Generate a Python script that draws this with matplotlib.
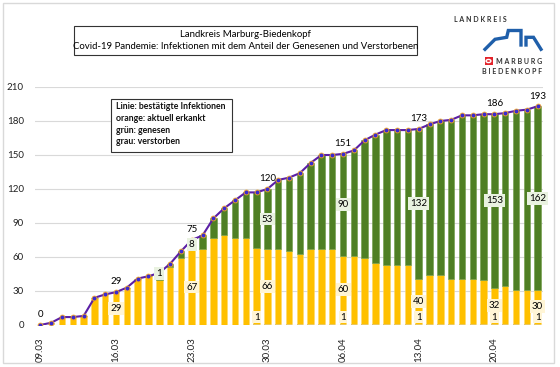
import matplotlib
matplotlib.use("Agg")
import matplotlib.pyplot as plt
import matplotlib.patches as patches
from matplotlib.lines import Line2D
import numpy as np
import pandas as pd

# daily values 09.03. - 24.04.
dates = pd.date_range("2020-03-09", "2020-04-24").strftime("%d.%m").tolist()
confirmed = [0, 2, 7, 7, 8, 24, 27, 29, 33, 41, 43, 46, 54, 65, 75, 79, 94, 103, 110, 117,
             117, 120, 128, 130, 134, 143, 150, 150, 151, 154, 163, 168, 172, 172, 172, 173,
             177, 180, 181, 185, 185, 186, 186, 187, 189, 190, 193]
ill = [0, 2, 7, 7, 8, 24, 27, 29, 33, 41, 43, 40, 51, 59, 67, 67, 77, 79, 77, 77,
       67, 66, 66, 64, 62, 66, 66, 66, 60, 60, 58, 54, 52, 52, 52, 40,
       43, 43, 40, 40, 40, 39, 32, 33, 30, 30, 30]
recovered = [0, 0, 0, 0, 0, 0, 0, 0, 0, 0, 0, 1, 3, 6, 8, 12, 17, 24, 33, 40,
             49, 53, 61, 65, 71, 76, 83, 83, 90, 93, 104, 113, 119, 119, 119, 132,
             133, 136, 140, 144, 144, 146, 153, 153, 158, 159, 162]
dead = [0] * 20 + [1] * 27

# days with data labels
total_labels = ["09.03", "16.03", "23.03", "30.03", "06.04", "13.04", "20.04", "24.04"]
ill_labels = ["16.03", "23.03", "30.03", "06.04", "13.04", "20.04", "24.04"]
rec_labels = ["20.03", "23.03", "30.03", "06.04", "13.04", "20.04", "24.04"]
dead_labels = ["29.03", "06.04", "13.04", "20.04", "24.04"]
tick_days = ["09.03", "16.03", "23.03", "30.03", "06.04", "13.04", "20.04"]

C_ILL = "#FFC000"
C_REC = "#4F7F24"
C_DEAD = "#A5A5A5"
C_LINE = "#5B1FA6"

plt.rcParams["font.family"] = ["Lato", "DejaVu Sans"]

W, H = 560, 367


def fx(px):
    return px / W


def fy(py):
    return 1 - py / H


fig = plt.figure(figsize=(5.6, 3.67), dpi=100)
ax = fig.add_axes([fx(35), 42 / H, 508 / W, 238 / H])

x = np.arange(len(dates))
ill = np.array(ill)
recovered = np.array(recovered)
dead = np.array(dead)

ax.bar(x, dead, width=0.6, color=C_DEAD, zorder=2)
ax.bar(x, ill, width=0.6, bottom=dead, color=C_ILL, edgecolor="#FFD966", linewidth=0.4, zorder=2)
ax.bar(x, recovered, width=0.6, bottom=dead + ill, color=C_REC, edgecolor="#6E9B45", linewidth=0.4, zorder=2)
ax.plot(x, confirmed, color=C_LINE, lw=1.5, marker="o", ms=3.5, mfc="#3A2BD0",
        mec="#F5A623", mew=0.6, zorder=4)

idx = {d: i for i, d in enumerate(dates)}
fs = 7
for d in total_labels:
    i = idx[d]
    ax.text(i, confirmed[i] + 9, str(confirmed[i]), ha="center", va="center", fontsize=fs, zorder=5)
for d in ill_labels:
    i = idx[d]
    ax.text(i, dead[i] + ill[i] / 2, str(ill[i]), ha="center", va="center", fontsize=fs, zorder=5,
            bbox=dict(boxstyle="square,pad=0.2", fc="#FFF5D6", ec="none"))
for d in rec_labels:
    i = idx[d]
    y = dead[i] + ill[i] + recovered[i] / 2
    if recovered[i] < 3:
        y += 5
    ax.text(i, y, str(recovered[i]), ha="center", va="center", fontsize=fs, zorder=5,
            bbox=dict(boxstyle="square,pad=0.2", fc="#E9F2E0", ec="none"))
for d in dead_labels:
    i = idx[d]
    ax.text(i, 7, str(dead[i]), ha="center", va="center", fontsize=fs, zorder=5,
            bbox=dict(boxstyle="square,pad=0.15", fc="#FFF5D6", ec="none"))

# axes
ax.set_xlim(-0.5, len(dates) - 0.5)
ax.set_ylim(0, 210)
ax.set_yticks(range(0, 211, 30))
ax.set_xticks([idx[d] for d in tick_days])
ax.set_xticklabels(tick_days, rotation=90)
ax.tick_params(axis="both", length=0, labelsize=7, colors="#222222")
ax.tick_params(axis="y", pad=8)
ax.tick_params(axis="x", pad=9)
ax.grid(axis="y", color="#D9D9D9", lw=0.8, zorder=0)
for s in ax.spines.values():
    s.set_visible(False)

# title box
fig.patches.append(patches.Rectangle((fx(74), fy(55)), 343 / W, 29 / H, transform=fig.transFigure,
                                     fc="white", ec="#333333", lw=0.8))
fig.text(fx(245.5), fy(40.5),
         "Landkreis Marburg-Biedenkopf\nCovid-19 Pandemie: Infektionen mit dem Anteil der Genesenen und Verstorbenen",
         ha="center", va="center", fontsize=6.9, linespacing=1.45)

# legend box
fig.patches.append(patches.Rectangle((fx(111), fy(152)), 121 / W, 53 / H,
                                     transform=fig.transFigure, fc="white", ec="#333333", lw=0.8))
fig.text(fx(116), fy(102), "Linie: bestätigte Infektionen\norange: aktuell erkankt\ngrün: genesen\ngrau: verstorben",
         fontsize=6.3, fontweight="bold", va="top", ha="left", linespacing=1.4, color="#111111")

# logo
fig.text(fx(480), fy(20), "L A N D K R E I S", ha="center", va="center", fontsize=5,
         fontweight="bold", color="#333333")
lx1 = [485, 495, 506.7, 508.3, 521, 521]
ly1 = [49.3, 39.3, 37.3, 30.5, 30.5, 45]
lx2 = [526, 526, 533.5, 541]
ly2 = [45, 37.3, 37.3, 49.3]
for lx, ly in ((lx1, ly1), (lx2, ly2)):
    fig.lines.append(Line2D(np.array(lx) / W, 1 - np.array(ly) / H, transform=fig.transFigure,
                            color="#1F5FAA", lw=2.4, solid_joinstyle="miter"))
fig.patches.append(patches.Rectangle((fx(484.5), fy(65)), 8 / W, 8 / H,
                                     transform=fig.transFigure, fc="#E3242B", ec="none"))
fig.patches.append(patches.Circle((fx(488.5), fy(61)), 2.4 / W,
                                  transform=fig.transFigure, fc="none", ec="white", lw=1))
fig.text(fx(542), fy(61.5), "M A R B U R G", ha="right", va="center", fontsize=5,
         fontweight="bold", color="#333333")
fig.text(fx(542), fy(72), "B I E D E N K O P F", ha="right", va="center", fontsize=5,
         fontweight="bold", color="#333333")

# chart border
fig.patches.append(patches.Rectangle((fx(3), fy(363)), 551 / W, 360 / H,
                                     transform=fig.transFigure, fc="none", ec="#D9D9D9", lw=1))

fig.savefig("out.png", dpi=100, facecolor="white")
